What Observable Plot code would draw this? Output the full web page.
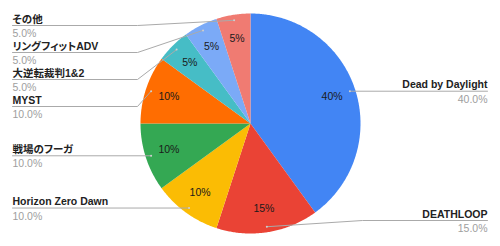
<!DOCTYPE html>
<html>
<head>
<meta charset="utf-8">
<script src="https://cdn.jsdelivr.net/npm/d3@7"></script>
<script src="https://cdn.jsdelivr.net/npm/@observablehq/plot@0.6"></script>
<style>
  html, body { margin: 0; padding: 0; background: #fff; }
  #chart svg { display: block; }
  #chart text { font-feature-settings: "palt"; }
</style>
</head>
<body>
<div id="chart"></div>
<script>
// ---- data ----
const names = ["Dead by Daylight", "DEATHLOOP", "Horizon Zero Dawn", "戦場のフーガ", "MYST", "大逆転裁判1&2", "リングフィットADV", "その他"];
const values = [40, 15, 10, 10, 10, 5, 5, 5];
const colors = ["#4285F4", "#EA4335", "#FBBC04", "#34A853", "#FF6D01", "#46BDC6", "#7BAAF7", "#F07B72"];

// ---- layout ----
const W = 500, H = 246;
const cx = 250, cy = 123, R = 110;           // pie centre & radius (px)
const leftX = 12, rightX = 487;              // label edges (px)
const bendOffset = 125;                      // underline length before diagonal
const minTop = 25, spacing = 27, maxBottom = 220;
const FONT = '"Liberation Sans", Arial, "Noto Sans CJK JP", sans-serif';

const toX = px => (px - cx) / R;
const toY = py => (py - cy) / R;

const data = names.map((name, i) => ({name, value: values[i]}));
const total = d3.sum(values);
const arcs = d3.pie().sort(null).value(d => d.value)(data);

// slice polygons
const slicePts = arcs.flatMap(a => {
  const n = Math.max(2, Math.ceil((a.endAngle - a.startAngle) / 0.01));
  const pts = [{name: a.data.name, x: 0, y: 0}];
  for (let i = 0; i <= n; i++) {
    const t = a.startAngle + (a.endAngle - a.startAngle) * i / n;
    pts.push({name: a.data.name, x: Math.sin(t), y: -Math.cos(t)});
  }
  return pts;
});

// inner percentage labels
const inner = arcs.map(a => {
  const m = (a.startAngle + a.endAngle) / 2;
  return {x: 0.78 * Math.sin(m), y: -0.78 * Math.cos(m), text: Math.round(a.data.value / total * 100) + "%"};
});

// outer labels with simple collision avoidance
const outer = arcs.map(a => {
  const m = (a.startAngle + a.endAngle) / 2;
  const ax = cx + 0.95 * R * Math.sin(m), ay = cy - 0.95 * R * Math.cos(m);
  return {name: a.data.name, pct: (a.data.value / total * 100).toFixed(1) + "%", ax, ay, left: m > Math.PI};
});
for (const side of [true, false]) {
  const g = outer.filter(d => d.left === side).sort((a, b) => a.ay - b.ay);
  let prev = -Infinity;
  for (const d of g) { d.ly = Math.max(d.ay, prev + spacing, minTop); prev = d.ly; }
  let next = Infinity;
  for (let i = g.length - 1; i >= 0; i--) { const d = g[i]; d.ly = Math.min(d.ly, next - spacing, maxBottom); next = d.ly; }
}
const leaders = outer.flatMap(d => {
  const endX = d.left ? leftX : rightX;
  const bendX = d.left ? leftX + bendOffset : rightX - bendOffset;
  const pts = [{name: d.name, x: toX(d.ax), y: toY(d.ay)}];
  if (Math.abs(d.ly - d.ay) > 1.5) pts.push({name: d.name, x: toX(bendX), y: toY(d.ly)});
  pts.push({name: d.name, x: toX(endX), y: toY(d.ly)});
  return pts;
});
const leftL = outer.filter(d => d.left), rightL = outer.filter(d => !d.left);

const nameText = (arr, anchor, px) => Plot.text(arr, {
  x: () => toX(px), y: d => toY(d.ly - 3), text: "name", textAnchor: anchor, lineAnchor: "bottom",
  fontSize: 10.5, fontWeight: "bold", fill: "#222"
});
const pctText = (arr, anchor, px) => Plot.text(arr, {
  x: () => toX(px), y: d => toY(d.ly + 11.5), text: "pct", textAnchor: anchor, lineAnchor: "bottom",
  fontSize: 10.5, fill: "#9e9e9e"
});

const chart = Plot.plot({
  width: W, height: H,
  margin: 0,
  style: {fontFamily: FONT, background: "#fff"},
  x: {domain: [toX(0), toX(W)], range: [0, W], axis: null},
  y: {domain: [toY(0), toY(H)], range: [0, H], axis: null},
  color: {domain: names, range: colors},
  marks: [
    Plot.line(slicePts, {x: "x", y: "y", z: "name", fill: "name", stroke: "none", curve: "linear-closed"}),
    Plot.line(leaders, {x: "x", y: "y", z: "name", stroke: "#aaaaaa", strokeWidth: 1, curve: "linear"}),
    Plot.dot(outer, {x: d => toX(d.ax), y: d => toY(d.ay), r: 1, fill: "#d0d0d0", stroke: "none"}),
    Plot.text(inner, {x: "x", y: "y", text: "text", fontSize: 10.5, fill: "#1a1a1a"}),
    nameText(leftL, "start", leftX),
    pctText(leftL, "start", leftX),
    nameText(rightL, "end", rightX),
    pctText(rightL, "end", rightX)
  ]
});
document.getElementById("chart").appendChild(chart);
</script>
</body>
</html>
